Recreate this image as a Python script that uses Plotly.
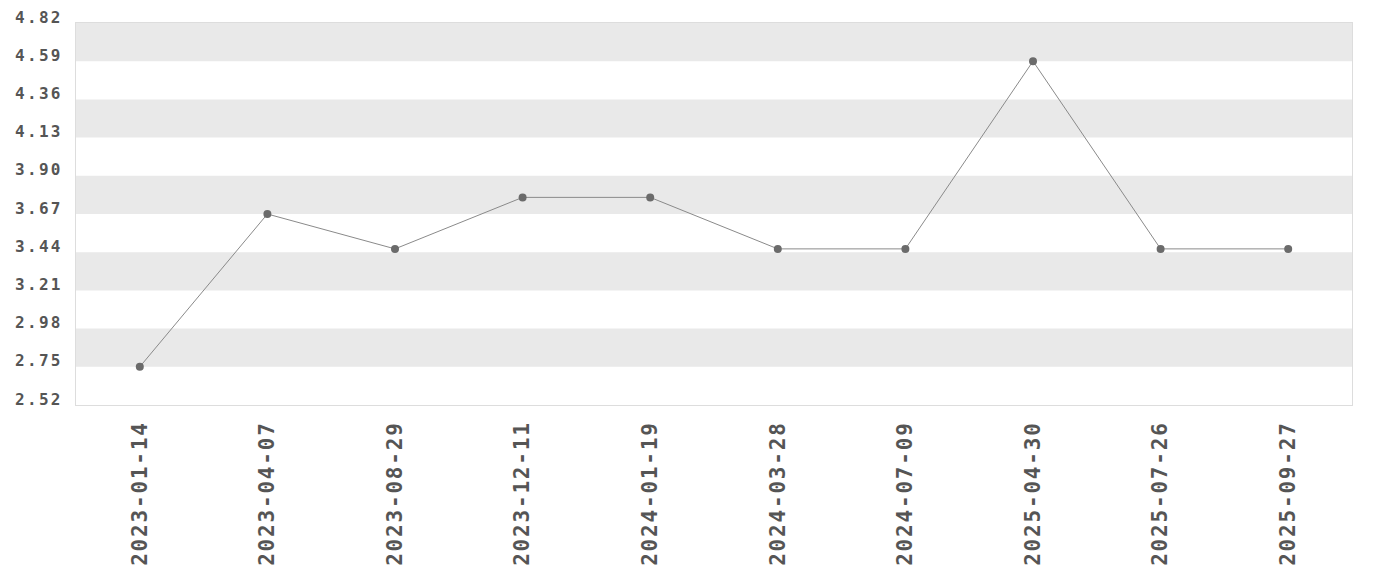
import plotly.graph_objects as go

dates = ["2023-01-14", "2023-04-07", "2023-08-29", "2023-12-11", "2024-01-19",
         "2024-03-28", "2024-07-09", "2025-04-30", "2025-07-26", "2025-09-27"]
values = [2.75, 3.67, 3.46, 3.77, 3.77, 3.46, 3.46, 4.59, 3.46, 3.46]
y_ticks = [2.52, 2.75, 2.98, 3.21, 3.44, 3.67, 3.90, 4.13, 4.36, 4.59, 4.82]
band_pairs = [(2.75, 2.98), (3.21, 3.44), (3.67, 3.90), (4.13, 4.36), (4.59, 4.82)]

fig = go.Figure()
fig.add_trace(go.Scatter(
    x=dates, y=values, mode="lines+markers",
    line=dict(color="#8a8a8a", width=1),
    marker=dict(color="#6b6b6b", size=8, symbol="circle"),
    hoverinfo="skip",
))

shapes = []
for lo, hi in band_pairs:
    shapes.append(dict(type="rect", xref="paper", yref="y", x0=0, x1=1, y0=lo, y1=hi,
                       fillcolor="#e9e9e9", line=dict(width=0), layer="below"))

fig.update_layout(
    template="none",
    width=1380, height=580,
    margin=dict(l=68, r=36, t=15, b=183, autoexpand=False),
    paper_bgcolor="white", plot_bgcolor="white",
    showlegend=False,
    shapes=shapes,
    font=dict(family="DejaVu Sans Mono", color="#555555"),
    xaxis=dict(
        type="category", range=[-0.5, len(dates) - 0.5], automargin=False,
        tickangle=-90, showgrid=False, zeroline=False,
        showline=True, linecolor="#dddddd", linewidth=1, mirror=True,
        ticks="", ticklabelstandoff=7,
        tickfont=dict(family="DejaVu Sans Mono", size=21, weight="bold", color="#555555"),
    ),
    yaxis=dict(
        range=[y_ticks[0], y_ticks[-1]], tickmode="array", tickvals=y_ticks, automargin=False,
        ticktext=[f"{v:.2f}" for v in y_ticks],
        showgrid=False, zeroline=False,
        showline=True, linecolor="#dddddd", linewidth=1, mirror=True,
        ticks="", ticklabelstandoff=9, ticklabelshift=-6, ticklabeloverflow="allow",
        tickfont=dict(family="DejaVu Sans Mono", size=16, weight="bold", color="#555555"),
    ),
)

post = """
document.querySelectorAll('.xtick text').forEach(function(t){t.style.letterSpacing='1.8px';});
document.querySelectorAll('.ytick text').forEach(function(t){t.style.letterSpacing='2.3px';});
"""
fig.write_html("out.html", post_script=post)
